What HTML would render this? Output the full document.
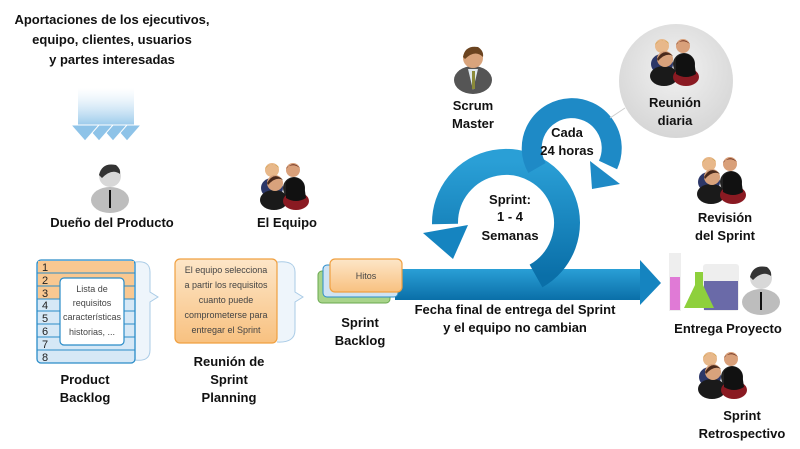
<!DOCTYPE html>
<html><head><meta charset="utf-8"><style>
html,body{margin:0;padding:0;background:#fff;}
svg{display:block;}
text{font-family:"Liberation Sans",sans-serif;}
.b{font-weight:bold;font-size:13px;fill:#111;text-anchor:middle;}
.s{font-size:9px;fill:#444;text-anchor:middle;}
</style></head><body>
<svg width="800" height="449" viewBox="0 0 800 449" xmlns="http://www.w3.org/2000/svg">
<defs>
<linearGradient id="blue" x1="0" y1="0" x2="0" y2="1"><stop offset="0" stop-color="#2a9fd6"/><stop offset="1" stop-color="#0a6fa8"/></linearGradient>
<linearGradient id="fade" x1="0" y1="0" x2="0" y2="1"><stop offset="0" stop-color="#cfe6f6" stop-opacity="0"/><stop offset="1" stop-color="#8ec3e8"/></linearGradient>
<linearGradient id="org" x1="0" y1="0" x2="0" y2="1"><stop offset="0" stop-color="#fde6c8"/><stop offset="1" stop-color="#f8c180"/></linearGradient>
<radialGradient id="gc" cx="0.5" cy="0.4" r="0.6"><stop offset="0" stop-color="#f2f2f2"/><stop offset="1" stop-color="#d6d6d6"/></radialGradient>
<g id="grp">
<ellipse cx="12" cy="28" rx="11" ry="10" fill="#2c3768"/>
<circle cx="12" cy="10" r="7" fill="#e8b88a"/><path d="M5 9 Q12 0 19 8 L18 6 Q12 2 6 7Z" fill="#c89a3c"/>
<ellipse cx="34" cy="28" rx="11" ry="11" fill="#222"/>
<circle cx="33" cy="10" r="7" fill="#d9a07a"/><path d="M26 9 Q33 0 40 8 Q34 3 27 7Z" fill="#6b3020"/>
<ellipse cx="14" cy="40" rx="14" ry="10" fill="#1a1a1a"/>
<circle cx="15" cy="23" r="8" fill="#d8a27c"/><path d="M7 23 Q14 11 23 20 Q16 16 8 25Z" fill="#4a2a1c"/>
<ellipse cx="36" cy="41" rx="13" ry="9" fill="#8a1a22"/>
<path d="M26 22 Q36 12 44 24 L46 38 Q36 44 26 38Z" fill="#111"/>
</g>
<g id="man">
<ellipse cx="20" cy="40" rx="19" ry="13" fill="#bdbdbd"/>
<circle cx="20" cy="16" r="11" fill="#d8d8d8"/>
<path d="M9 15 Q12 2 26 5 Q31 9 30 14 Q22 8 12 18Z" fill="#333"/>
<rect x="19" y="30" width="2" height="18" fill="#111"/>
</g>
<g id="dar"><rect x="86" y="88" width="14" height="40" fill="url(#fade)"/><polygon points="79,125 107,125 93,141" fill="#8ec3e8" stroke="#fff" stroke-width="1"/></g>
</defs>

<text class="b" x="112" y="24">Aportaciones de los ejecutivos,</text>
<text class="b" x="112" y="44">equipo, clientes, usuarios</text>
<text class="b" x="112" y="64">y partes interesadas</text>

<use href="#dar" x="34"/><use href="#dar" x="20"/><use href="#dar" x="6"/><use href="#dar" x="-8"/>

<use href="#man" x="90" y="160"/>
<text class="b" x="112" y="227">Dueño del Producto</text>
<use href="#grp" x="260" y="160"/>
<text class="b" x="287" y="227">El Equipo</text>

<!-- Product backlog -->
<path d="M135 262 Q150 260 150 272 L150 292 L158 297 L150 302 L150 350 Q150 362 135 360" fill="#eef5fb" stroke="#a9cbe6" stroke-width="1"/>
<rect x="37" y="260" width="98" height="103" rx="4" fill="#d6e8f6" stroke="#2a8cc8" stroke-width="1.3"/>
<rect x="38" y="261" width="96" height="38" fill="#f9c891"/>
<g stroke="#2a8cc8" stroke-width="1">
<line x1="37" y1="273" x2="135" y2="273"/><line x1="37" y1="286" x2="135" y2="286"/><line x1="37" y1="299" x2="135" y2="299"/><line x1="37" y1="311" x2="135" y2="311"/><line x1="37" y1="324" x2="135" y2="324"/><line x1="37" y1="337" x2="135" y2="337"/><line x1="37" y1="350" x2="135" y2="350"/>
</g>
<g font-size="11" fill="#222"><text x="42" y="271">1</text><text x="42" y="284">2</text><text x="42" y="297">3</text><text x="42" y="309">4</text><text x="42" y="322">5</text><text x="42" y="335">6</text><text x="42" y="348">7</text><text x="42" y="361">8</text></g>
<rect x="60" y="278" width="64" height="67" rx="4" fill="#fff" stroke="#2a8cc8" stroke-width="1.2"/>
<text class="s" x="92" y="292">Lista de</text><text class="s" x="92" y="306">requisitos</text><text class="s" x="92" y="320">características</text><text class="s" x="92" y="335">historias, ...</text>
<text class="b" x="85" y="384">Product</text><text class="b" x="85" y="402">Backlog</text>

<!-- planning -->
<path d="M277 262 Q295 260 295 272 L295 292 L303 297 L295 302 L295 330 Q295 343 277 342" fill="#eef5fb" stroke="#a9cbe6"/>
<rect x="175" y="259" width="102" height="84" rx="5" fill="url(#org)" stroke="#f0a040" stroke-width="1.2"/>
<text class="s" x="226" y="273">El equipo selecciona</text><text class="s" x="226" y="288">a partir los requisitos</text><text class="s" x="226" y="303">cuanto puede</text><text class="s" x="226" y="318">comprometerse para</text><text class="s" x="226" y="333">entregar el Sprint</text>
<text class="b" x="229" y="366">Reunión de</text><text class="b" x="229" y="384">Sprint</text><text class="b" x="229" y="402">Planning</text>

<!-- main arrow -->
<rect x="395" y="269" width="247" height="31" fill="url(#blue)"/>
<polygon points="640,260 661,283 640,305" fill="#1584c0"/>
<!-- big ring -->
<path d="M536 276 A61 61 0 1 0 445 224" fill="none" stroke="url(#blue)" stroke-width="26"/>
<polygon points="423,233 468,225 453,259" fill="#1584c0"/>
<!-- small ring -->
<path d="M537 168 A40 40 0 1 1 608 165" fill="none" stroke="#1e8ac6" stroke-width="20"/>
<polygon points="590,161 620,184 592,189" fill="#1e8ac6"/>

<!-- sprint backlog -->
<rect x="318" y="271" width="72" height="32" rx="4" fill="#a8d48a" stroke="#6aa84f"/>
<rect x="323" y="265" width="75" height="32" rx="4" fill="#cfe3f3" stroke="#2a8cc8"/>
<rect x="330" y="259" width="72" height="33" rx="5" fill="url(#org)" stroke="#f0a040" stroke-width="1.2"/>
<text class="s" x="366" y="279">Hitos</text>
<text class="b" x="360" y="327">Sprint</text><text class="b" x="360" y="345">Backlog</text>

<text class="b" x="515" y="314">Fecha final de entrega del Sprint</text>
<text class="b" x="515" y="332">y el equipo no cambian</text>

<text class="b" x="510" y="204">Sprint:</text><text class="b" x="510" y="221">1 - 4</text><text class="b" x="510" y="240">Semanas</text>
<text class="b" x="567" y="137">Cada</text><text class="b" x="567" y="155">24 horas</text>

<!-- scrum master -->
<g transform="translate(453,42)">
<ellipse cx="20" cy="38" rx="19" ry="14" fill="#555"/>
<path d="M15 27 L20 48 L25 27Z" fill="#dfe8ee"/><rect x="19" y="29" width="3" height="18" fill="#8a8a3a"/>
<circle cx="20" cy="16" r="10" fill="#d9a47c"/><path d="M10 15 Q12 3 25 5 Q31 9 30 15 Q22 7 12 17Z" fill="#6b4420"/>
</g>
<text class="b" x="473" y="110">Scrum</text><text class="b" x="473" y="128">Master</text>

<!-- reunion diaria -->
<line x1="610" y1="118" x2="625" y2="108" stroke="#ccc"/>
<circle cx="676" cy="81" r="57" fill="url(#gc)"/>
<use href="#grp" x="650" y="36"/>
<text class="b" x="675" y="107">Reunión</text><text class="b" x="675" y="125">diaria</text>

<use href="#grp" x="697" y="154"/>
<text class="b" x="725" y="222">Revisión</text><text class="b" x="725" y="240">del Sprint</text>

<!-- entrega -->
<rect x="669" y="253" width="12" height="58" fill="#eee"/><rect x="670" y="277" width="10" height="33" fill="#e07ad6"/>
<rect x="703" y="264" width="36" height="47" rx="3" fill="#eee"/><rect x="704" y="281" width="34" height="29" fill="#6a6aa8"/>
<polygon points="695,272 703,272 703,285 714,308 684,308 695,285" fill="#8ed03c"/>
<use href="#man" x="741" y="262"/>
<text class="b" x="728" y="333">Entrega Proyecto</text>

<use href="#grp" x="698" y="349"/>
<text class="b" x="742" y="420">Sprint</text><text class="b" x="742" y="438">Retrospectivo</text>
</svg>
</body></html>
